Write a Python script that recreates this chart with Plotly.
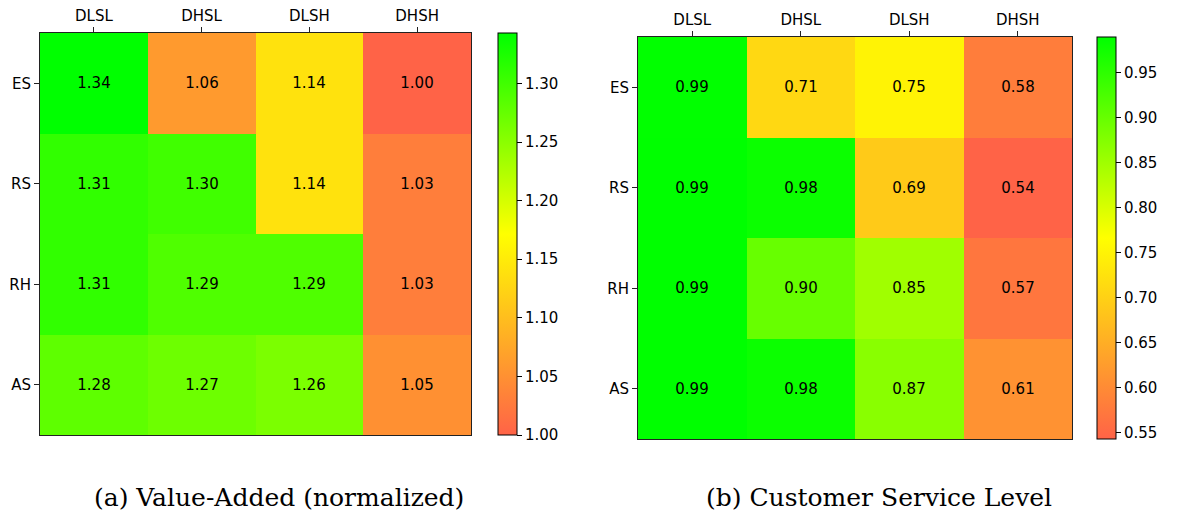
import plotly.graph_objects as go

# ---- data ----
rows = ["ES", "RS", "RH", "AS"]
cols = ["DLSL", "DHSL", "DLSH", "DHSH"]

value_added = [
    [1.343, 1.06, 1.14, 1.000],
    [1.31, 1.30, 1.14, 1.03],
    [1.31, 1.29, 1.29, 1.03],
    [1.28, 1.27, 1.26, 1.05],
]
service_level = [
    [0.989, 0.71, 0.75, 0.58],
    [0.99, 0.98, 0.69, 0.543],
    [0.99, 0.90, 0.85, 0.57],
    [0.99, 0.98, 0.87, 0.61],
]
va_ticks = [1.00, 1.05, 1.10, 1.15, 1.20, 1.25, 1.30]
sl_ticks = [0.55, 0.60, 0.65, 0.70, 0.75, 0.80, 0.85, 0.90, 0.95]
captions = ["(a) Value-Added (normalized)", "(b) Customer Service Level"]

# ---- style ----
W, H = 1185, 516
OFF = 8  # page body margin
FW, FH = W - OFF, H - OFF
cscale = [[0.0, "#ff6347"], [0.5, "#ffff00"], [1.0, "#00ff00"]]
font = dict(family="DejaVu Sans", size=15, color="black")


def fx(x):
    return (x - OFF) / FW


def fy(y):
    return 1 - (y - OFF) / FH


def flat_min(m):
    return min(min(r) for r in m)


def flat_max(m):
    return max(max(r) for r in m)


fig = go.Figure()

panels = [
    dict(z=value_added, ticks=va_ticks, xa="x", ya="y",
         xd=[fx(40), fx(471)], yd=[fy(435), fy(33)], cbx=498, cbtop=33, cbbot=435),
    dict(z=service_level, ticks=sl_ticks, xa="x2", ya="y2",
         xd=[fx(638), fx(1072)], yd=[fy(439), fy(37)], cbx=1097, cbtop=37, cbbot=439),
]

for p in panels:
    fig.add_trace(go.Heatmap(
        z=p["z"], x=cols, y=rows,
        xaxis=p["xa"], yaxis=p["ya"],
        colorscale=cscale, zmin=flat_min(p["z"]), zmax=flat_max(p["z"]),
        texttemplate="%{z:.2f}", textfont=dict(family="DejaVu Sans", size=15, color="black"),
        hoverinfo="skip",
        colorbar=dict(
            x=fx(p["cbx"]), xanchor="left", xref="paper",
            y=fy(p["cbbot"]), yanchor="bottom",
            len=(p["cbbot"] - p["cbtop"]) / FH, lenmode="fraction",
            thickness=19, thicknessmode="pixels",
            outlinecolor="black", outlinewidth=1,
            tickvals=p["ticks"], ticktext=["%.2f" % t for t in p["ticks"]],
            ticks="outside", ticklen=5, tickcolor="black",
            tickfont=font, xpad=0, ypad=0,
        ),
    ))

axis_common = dict(showline=True, mirror=True, linecolor="#222", linewidth=1,
                   ticks="outside", ticklen=5, tickcolor="#222",
                   tickfont=font, showgrid=False, zeroline=False,
                   fixedrange=True)

fig.update_layout(
    width=FW, height=FH,
    margin=dict(l=0, r=0, t=0, b=0),
    paper_bgcolor="white", plot_bgcolor="white",
    font=font,
    xaxis=dict(domain=panels[0]["xd"], anchor="y", side="top", **axis_common),
    yaxis=dict(domain=panels[0]["yd"], anchor="x", autorange="reversed", **axis_common),
    xaxis2=dict(domain=panels[1]["xd"], anchor="y2", side="top", **axis_common),
    yaxis2=dict(domain=panels[1]["yd"], anchor="x2", autorange="reversed", **axis_common),
)

cap_centers = [279, 879]
for txt, cx in zip(captions, cap_centers):
    fig.add_annotation(
        text=txt, x=fx(cx), y=fy(497), xref="paper", yref="paper",
        xanchor="center", yanchor="middle", showarrow=False,
        font=dict(family="DejaVu Serif", size=25, color="black"),
    )

fig.write_html("out.html")
